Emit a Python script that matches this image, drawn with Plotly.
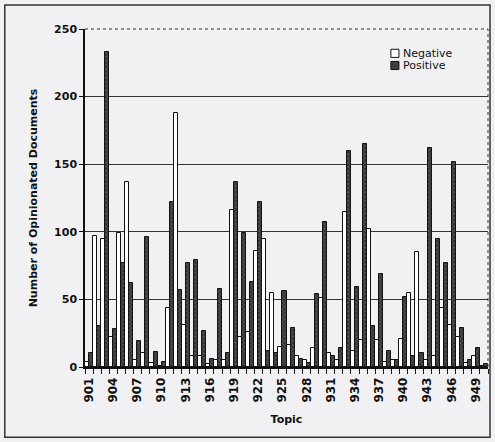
import plotly.graph_objects as go

# Opinionated documents per topic, split by polarity
topics = [str(t) for t in range(901, 951)]
negative = [4, 97, 95, 22, 99, 137, 5, 10, 3, 1,
            44, 188, 31, 8, 8, 2, 5, 5, 116, 22,
            26, 86, 95, 55, 15, 16, 8, 5, 14, 51,
            10, 5, 115, 12, 20, 102, 20, 4, 5, 21,
            55, 85, 5, 8, 44, 31, 22, 3, 8, 1]
positive = [10, 30, 233, 28, 77, 62, 19, 96, 11, 4,
            122, 57, 77, 79, 27, 6, 58, 10, 137, 99,
            63, 122, 12, 10, 56, 29, 6, 3, 54, 107,
            8, 14, 160, 59, 165, 30, 69, 12, 5, 52,
            8, 10, 162, 95, 77, 152, 29, 5, 14, 2]
y_ticks = [0, 50, 100, 150, 200, 250]
series_names = ["Negative", "Positive"]

tick_text = [t if (i % 3 == 0) else "" for i, t in enumerate(topics)]

BG = "#f1f1f3"
FONT = "DejaVu Sans"
NEG_FILL = "white"
POS_FILL = "#3c3c3c"

fig = go.Figure()
fig.add_trace(go.Bar(
    x=topics, y=negative, name=series_names[0],
    marker=dict(color=NEG_FILL, line=dict(color="#111", width=1)),
))
fig.add_trace(go.Bar(
    x=topics, y=positive, name=series_names[1],
    marker=dict(color=POS_FILL, line=dict(color="#111", width=1),
                pattern=dict(shape="x", fgcolor="#000", bgcolor="#555", size=3, solidity=0.5)),
))

# outer frame around the whole figure
fig.add_shape(type="rect", xref="paper", yref="paper",
              x0=-0.199, x1=1.005, y0=-0.208, y1=1.071,
              line=dict(color="#333", width=1.5), fillcolor="rgba(0,0,0,0)", layer="below")
# dotted top and right border of the plotting area
fig.add_shape(type="line", xref="paper", yref="paper", x0=0, x1=1, y0=1, y1=1,
              line=dict(color="#333", width=1, dash="dot"))
fig.add_shape(type="line", xref="paper", yref="paper", x0=1, x1=1, y0=0, y1=1,
              line=dict(color="#333", width=1, dash="dot"))

# compact legend: swatch + label per series
legend_rows = [(0.928, NEG_FILL), (0.892, POS_FILL)]
for name, (yc, fill) in zip(series_names, legend_rows):
    fig.add_shape(type="rect", xref="paper", yref="paper",
                  x0=0.759, x1=0.779, y0=yc - 0.012, y1=yc + 0.012,
                  line=dict(color="#111", width=1), fillcolor=fill)
    fig.add_annotation(xref="paper", yref="paper", x=0.785, y=yc,
                       text=name, showarrow=False, xanchor="left", yanchor="middle",
                       font=dict(family=FONT, size=11, color="#111"))

fig.update_layout(
    width=495, height=442,
    margin=dict(l=85, r=7, t=29, b=75),
    paper_bgcolor=BG, plot_bgcolor=BG,
    barmode="group", bargap=0.0, bargroupgap=0.0,
    font=dict(family=FONT, size=11, color="#111"),
    showlegend=False,
    xaxis=dict(
        type="category", tickmode="array", tickvals=topics, ticktext=tick_text,
        tickangle=-90, tickson="boundaries", ticks="outside", ticklen=5,
        tickcolor="#111", tickfont=dict(family=FONT, size=12, weight="bold"),
        ticklabelstandoff=4,
        showline=True, linecolor="#111", linewidth=1.5, showgrid=False,
        title=dict(text="Topic", font=dict(family=FONT, size=11, weight="bold"), standoff=14),
    ),
    yaxis=dict(
        range=[0, 250], tickvals=y_ticks, ticks="outside", ticklen=4, tickcolor="#111",
        tickfont=dict(family=FONT, size=11, weight="bold"),
        showline=True, linecolor="#111", linewidth=1.5,
        showgrid=True, gridcolor="#333", gridwidth=1, zeroline=False,
        title=dict(text="Number of Opinionated Documents",
                   font=dict(family=FONT, size=11, weight="bold"), standoff=14),
    ),
)

fig.write_html("out.html")
